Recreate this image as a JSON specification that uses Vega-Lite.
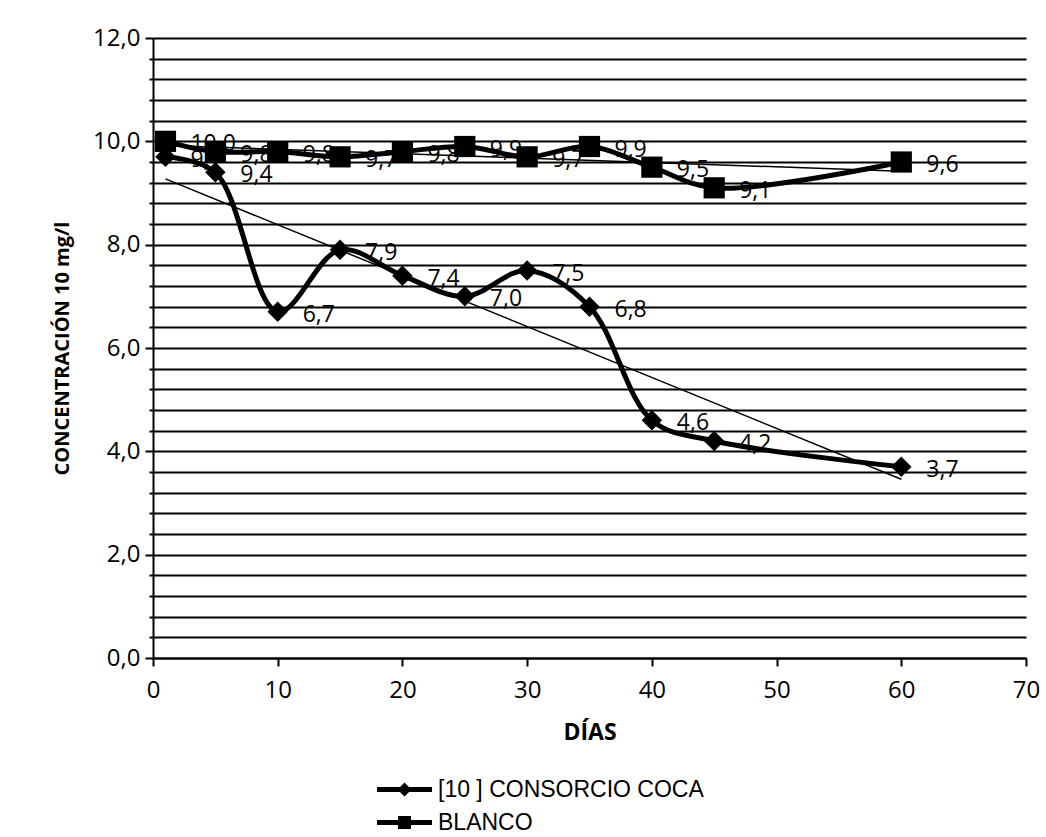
{
  "$schema": "https://vega.github.io/schema/vega-lite/v6.json",
  "width": 873,
  "height": 620,
  "autosize": {"type": "none"},
  "padding": {"left": 153, "top": 38, "right": 20, "bottom": 179},
  "background": "white",
  "config": {
    "view": {"stroke": null},
    "font": "Open Sans",
    "axis": {"domainColor": "black", "domainWidth": 2, "tickColor": "black", "tickWidth": 2, "labelColor": "black", "titleColor": "black", "labelFont": "Open Sans", "titleFont": "Open Sans"}
  },
  "data": {
    "values": [
      {"series": "[10 ] CONSORCIO COCA", "day": 1, "value": 9.7, "label": "9,7"},
      {"series": "[10 ] CONSORCIO COCA", "day": 5, "value": 9.4, "label": "9,4"},
      {"series": "[10 ] CONSORCIO COCA", "day": 10, "value": 6.7, "label": "6,7"},
      {"series": "[10 ] CONSORCIO COCA", "day": 15, "value": 7.9, "label": "7,9"},
      {"series": "[10 ] CONSORCIO COCA", "day": 20, "value": 7.4, "label": "7,4"},
      {"series": "[10 ] CONSORCIO COCA", "day": 25, "value": 7.0, "label": "7,0"},
      {"series": "[10 ] CONSORCIO COCA", "day": 30, "value": 7.5, "label": "7,5"},
      {"series": "[10 ] CONSORCIO COCA", "day": 35, "value": 6.8, "label": "6,8"},
      {"series": "[10 ] CONSORCIO COCA", "day": 40, "value": 4.6, "label": "4,6"},
      {"series": "[10 ] CONSORCIO COCA", "day": 45, "value": 4.2, "label": "4,2"},
      {"series": "[10 ] CONSORCIO COCA", "day": 60, "value": 3.7, "label": "3,7"},
      {"series": "BLANCO", "day": 1, "value": 10.0, "label": "10,0"},
      {"series": "BLANCO", "day": 5, "value": 9.8, "label": "9,8"},
      {"series": "BLANCO", "day": 10, "value": 9.8, "label": "9,8"},
      {"series": "BLANCO", "day": 15, "value": 9.7, "label": "9,7"},
      {"series": "BLANCO", "day": 20, "value": 9.8, "label": "9,8"},
      {"series": "BLANCO", "day": 25, "value": 9.9, "label": "9,9"},
      {"series": "BLANCO", "day": 30, "value": 9.7, "label": "9,7"},
      {"series": "BLANCO", "day": 35, "value": 9.9, "label": "9,9"},
      {"series": "BLANCO", "day": 40, "value": 9.5, "label": "9,5"},
      {"series": "BLANCO", "day": 45, "value": 9.1, "label": "9,1"},
      {"series": "BLANCO", "day": 60, "value": 9.6, "label": "9,6"}
    ]
  },
  "encoding": {
    "x": {
      "field": "day", "type": "quantitative",
      "scale": {"domain": [0, 70], "nice": false, "zero": false},
      "axis": {
        "title": "DÍAS", "titleFontSize": 23, "titleFontWeight": "bold", "titlePadding": 19,
        "values": [0, 10, 20, 30, 40, 50, 60, 70],
        "grid": false, "labelFontSize": 24, "labelPadding": 12, "tickSize": 8, "labelFlush": false
      }
    },
    "y": {
      "field": "value", "type": "quantitative",
      "scale": {"domain": [0, 12], "nice": false},
      "axis": {
        "title": "CONCENTRACIÓN 10 mg/l", "titleFontSize": 20, "titleFontWeight": "bold", "titlePadding": 20,
        "values": [0, 0.4, 0.8, 1.2, 1.6, 2, 2.4, 2.8, 3.2, 3.6, 4, 4.4, 4.8, 5.2, 5.6, 6, 6.4, 6.8, 7.2, 7.6, 8, 8.4, 8.8, 9.2, 9.6, 10, 10.4, 10.8, 11.2, 11.6, 12],
        "labelExpr": "abs(datum.value/2 - round(datum.value/2)) < 0.001 ? replace(format(datum.value, '.1f'), '.', ',') : ''",
        "labelOverlap": false, "labelFontSize": 24, "labelPadding": 5,
        "tickSize": {"condition": {"test": "abs(datum.value/2 - round(datum.value/2)) < 0.001", "value": 8}, "value": 4},
        "grid": true, "gridColor": "black", "gridWidth": 2, "gridOpacity": 1
      }
    }
  },
  "layer": [
    {
      "transform": [{"regression": "value", "on": "day", "groupby": ["series"]}],
      "mark": {"type": "line", "color": "black", "strokeWidth": 1.5},
      "encoding": {"detail": {"field": "series"}}
    },
    {
      "mark": {"type": "line", "color": "black", "strokeWidth": 5, "interpolate": "catmull-rom"},
      "encoding": {"detail": {"field": "series"}}
    },
    {
      "transform": [{"filter": "datum.series == 'BLANCO'"}],
      "mark": {"type": "point", "shape": "square", "filled": true, "color": "black", "size": 450, "opacity": 1}
    },
    {
      "transform": [{"filter": "datum.series != 'BLANCO'"}],
      "mark": {"type": "point", "shape": "diamond", "filled": true, "color": "black", "size": 420, "opacity": 1}
    },
    {
      "mark": {"type": "text", "align": "left", "baseline": "middle", "dx": 25, "dy": 3, "fontSize": 23, "font": "Open Sans", "color": "black"},
      "encoding": {"text": {"field": "label"}}
    },
    {
      "mark": {"type": "point", "filled": true, "color": "black", "size": 400, "opacity": 0},
      "encoding": {
        "shape": {
          "field": "series", "type": "nominal",
          "scale": {
            "domain": ["[10 ] CONSORCIO COCA", "BLANCO"],
            "range": ["M-2.75,-0.25H2.75V0.25H-2.75Z M0,-0.7L0.7,0L0,0.7L-0.7,0Z", "M-2.75,-0.25H2.75V0.25H-2.75Z M-0.65,-0.65H0.65V0.65H-0.65Z"]
          },
          "legend": {
            "title": null, "orient": "none", "legendX": 240, "legendY": 740,
            "symbolOpacity": 1, "symbolFillColor": "black", "symbolStrokeWidth": 0, "symbolSize": 400,
            "labelFont": "Liberation Sans", "labelFontSize": 23, "labelColor": "black", "labelOffset": 22, "labelLimit": 500,
            "rowPadding": 9
          }
        }
      }
    }
  ]
}
